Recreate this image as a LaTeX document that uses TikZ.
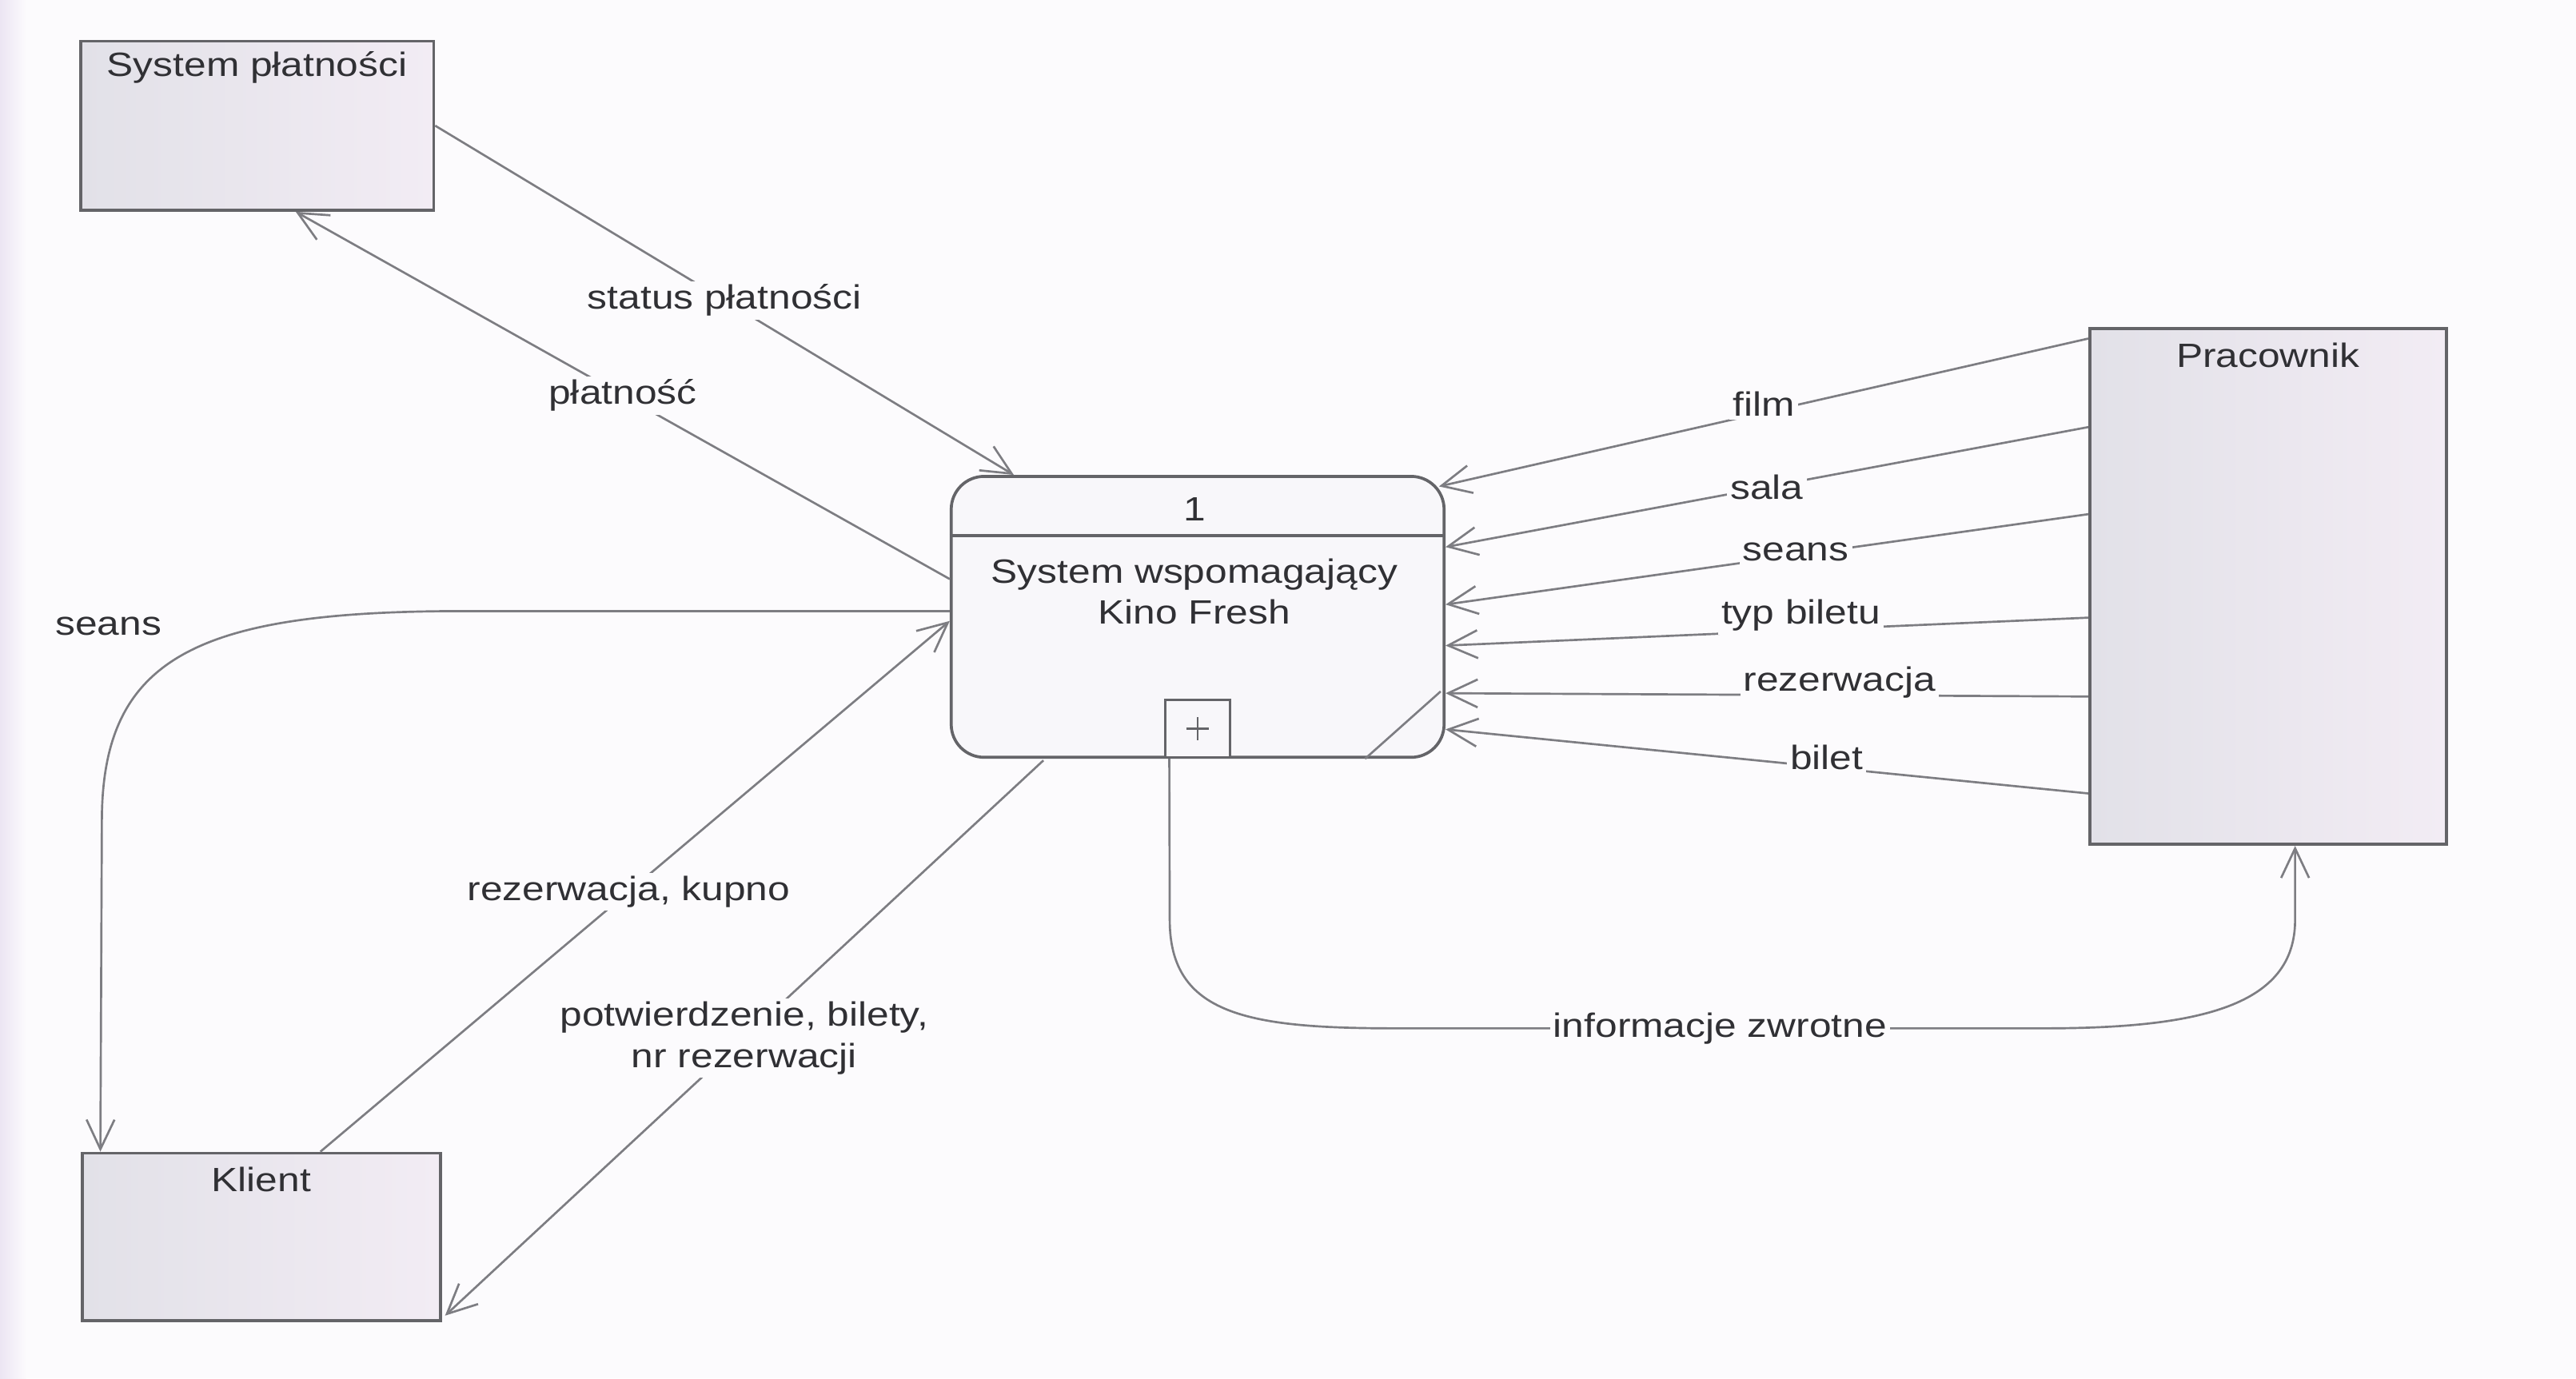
\documentclass[tikz,border=0pt]{standalone}
\usepackage{fontspec}
\setmainfont[FakeStretch=1.18]{Liberation Sans}
\usetikzlibrary{arrows.meta,calc}
\definecolor{bg}{RGB}{252,251,253}
\definecolor{edge}{RGB}{100,100,104}
\definecolor{flowc}{RGB}{125,125,130}
\definecolor{txt}{RGB}{48,48,52}
\definecolor{boxa}{RGB}{226,225,232}
\definecolor{boxb}{RGB}{242,236,244}
\definecolor{procfill}{RGB}{248,247,250}
\definecolor{strip}{RGB}{236,229,243}
\begin{document}
\begin{tikzpicture}[x=1pt,y=-1pt,
  font=\fontsize{20.5}{25}\selectfont, text=txt,
  extbox/.style={draw=edge, line width=1.8pt, left color=boxa, right color=boxb, inner sep=0pt},
  procbox/.style={draw=edge, line width=1.8pt, fill=procfill, rounded corners=20pt, inner sep=0pt},
  flow/.style={draw=flowc, line width=1.3pt, -{Straight Barb[length=18pt,width=17pt,line width=1.3pt]}},
  plain/.style={draw=flowc, line width=1.3pt},
  lbl/.style={fill=bg, inner sep=2pt}]
% background
\fill[bg] (0,0) rectangle (1568,839);
\shade[left color=strip, right color=bg] (0,0) rectangle (16,839);
\useasboundingbox (0,0) rectangle (1568,839);

% external entities
\node[extbox, minimum width=215pt, minimum height=103pt] (sp) at (156.5,76.5) {};
\node at ($(sp.north)+(0,17)$) {System płatności};
\node[extbox, minimum width=217pt, minimum height=314pt] (prac) at (1380.5,357) {};
\node at ($(prac.north)+(0,17)$) {Pracownik};
\node[extbox, minimum width=218pt, minimum height=102pt] (kl) at (159,753) {};
\node at ($(kl.north)+(0,17)$) {Klient};

% process
\node[procbox, minimum width=300pt, minimum height=171pt] (proc) at (729,375.5) {};
\draw[edge, line width=1.8pt] ($(proc.north west)+(0,37)$) -- ($(proc.north east)+(0,37)$);
\node at ($(proc.north)+(-2,21)$) {1};
\node[align=center] at (727,360) {System wspomagający\\Kino Fresh};
\node[draw=edge, line width=1.5pt, fill=procfill, minimum width=39pt, minimum height=35pt, inner sep=0pt, anchor=south] (plus) at (proc.south) {};
\draw[edge, line width=1.2pt] ($(plus.center)+(-7,0)$) -- ($(plus.center)+(7,0)$)
  ($(plus.center)+(0,-7)$) -- ($(plus.center)+(0,7)$);
\draw[plain] ($(proc.south east)+(-49,0)$) -- ($(proc.south east)+(-3,-41)$);

% flows with System platnosci
\draw[flow] (sp.east) -- node[lbl]{status płatności} ($(proc.north west)+(39,0)$);
\draw[flow] ($(proc.west)+(0,-23)$) -- node[lbl]{płatność} ($(sp.south)+(23.5,0)$);

% flows with Klient
\draw[flow] ($(proc.west)+(0,-3.5)$) -- (282,372) .. controls (120,372) and (62,400) .. (62,500) -- ($(kl.north west)+(12,0)$);
\node at (66,381) {seans};
\draw[flow] ($(kl.north)+(36,0)$) -- node[lbl,pos=0.49]{rezerwacja, kupno} ($(proc.west)+(0,2.5)$);
\draw[flow] ($(proc.south west)+(57,1)$) -- node[lbl,align=center]{potwierdzenie, bilety,\\nr rezerwacji} ($(kl.south east)+(2,-4)$);

% flows from Pracownik
\draw[flow] ($(prac.north west)+(0,7)$) -- node[lbl,yshift=5pt]{film} ($(proc.north east)+(-4,7)$);
\draw[flow] ($(prac.west)+(0,-97)$) -- node[lbl]{sala} ($(proc.east)+(0,-42.5)$);
\draw[flow] ($(prac.west)+(0,-44)$) -- node[lbl,pos=0.455,yshift=2pt]{seans} ($(proc.east)+(0,-7.5)$);
\draw[flow] ($(prac.west)+(0,19)$) -- node[lbl,pos=0.447,yshift=9pt]{typ biletu} ($(proc.east)+(0,17.5)$);
\draw[flow] ($(prac.west)+(0,67)$) -- node[lbl,pos=0.387,yshift=8pt]{rezerwacja} ($(proc.east)+(0,46.5)$);
\draw[flow] ($(prac.west)+(0,126)$) -- node[lbl,pos=0.407,yshift=6pt]{bilet} ($(proc.east)+(0,68.5)$);

% feedback
\draw[flow] ($(plus.south west)+(3,0)$) -- (712,560) .. controls (712,618) and (760,626) .. (850,626)
  -- node[lbl]{informacje zwrotne} (1244,626) .. controls (1340,626) and (1397,612) .. (1397,560)
  -- ($(prac.south)+(16.5,0)$);
\end{tikzpicture}
\end{document}
